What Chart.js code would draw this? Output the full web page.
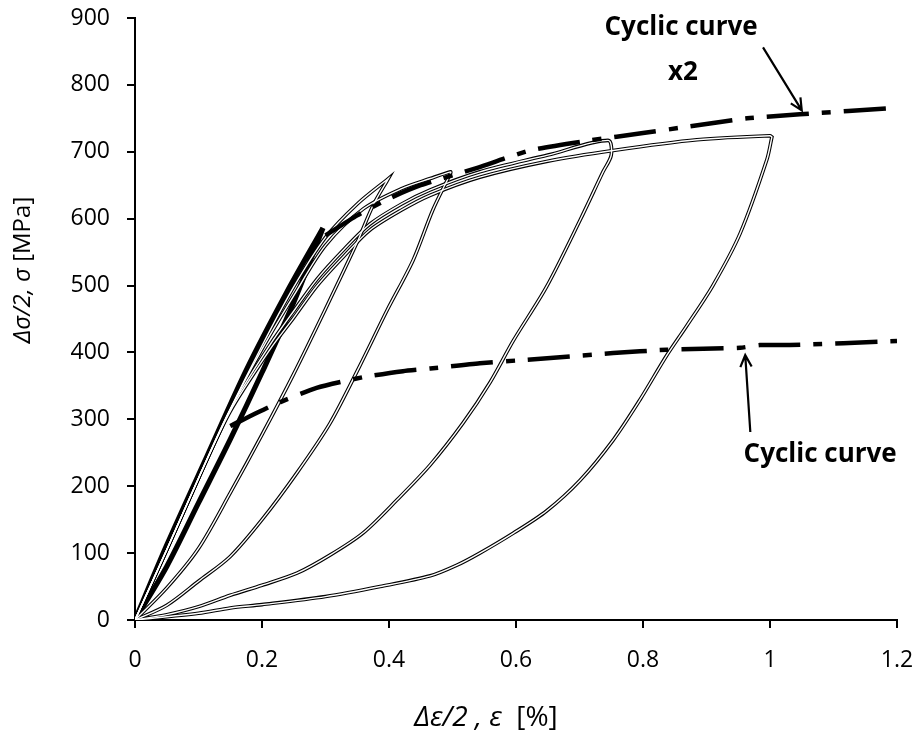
<!DOCTYPE html>
<html>
<head>
<meta charset="utf-8">
<script src="https://cdn.jsdelivr.net/npm/chart.js@4"></script>
<style>
  html, body { margin: 0; padding: 0; background: #fff; }
  canvas { display: block; }
</style>
</head>
<body>
<canvas id="loops" width="916" height="742"></canvas>
<script>
/* stabilised hysteresis loops (origin at the lower tip) with the cyclic curve and its x2 copy */

// ---- loops: lower (unloading) branch and upper (loading) branch, each origin -> tip ----
const low030X = [0, 0.05, 0.1, 0.15, 0.2, 0.25, 0.296];
const low030Y = [0, 80, 175, 270, 370, 475, 586];
const up030X  = [0, 0.05, 0.113, 0.176, 0.239, 0.296];
const up030Y  = [0, 112, 244, 375, 490, 586];

const low040X = [0, 0.05, 0.1, 0.15, 0.2, 0.25, 0.3, 0.35, 0.375, 0.399];
const low040Y = [0, 48, 107, 190, 277, 368, 465, 565, 620, 660];
const up040X  = [0, 0.05, 0.1, 0.15, 0.2, 0.25, 0.3, 0.35, 0.399];
const up040Y  = [0, 105, 212, 315, 410, 498, 572, 622, 660];

const low050X = [0, 0.05, 0.1, 0.15, 0.2, 0.255, 0.307, 0.354, 0.397, 0.438, 0.469, 0.497];
const low050Y = [0, 22, 58, 95, 150, 220, 294, 380, 463, 538, 613, 668];
const up050X  = [0, 0.05, 0.1, 0.15, 0.2, 0.25, 0.3, 0.36, 0.42, 0.465, 0.497];
const up050Y  = [0, 105, 212, 315, 405, 485, 560, 615, 645, 660, 670];

const low075X = [0, 0.05, 0.1, 0.15, 0.2, 0.255, 0.307, 0.359, 0.412, 0.465, 0.517, 0.559, 0.596, 0.648, 0.701, 0.737, 0.75];
const low075Y = [0, 8, 20, 37, 52, 70, 97, 130, 179, 232, 295, 355, 418, 498, 598, 670, 695];
const up075X  = [0, 0.05, 0.1, 0.15, 0.213, 0.25, 0.287, 0.33, 0.37, 0.42, 0.465, 0.543, 0.65, 0.745];
const up075Y  = [0, 105, 212, 315, 412, 462, 510, 555, 592, 622, 643, 670, 695, 717];

const low100X = [0, 0.1, 0.15, 0.2, 0.3, 0.386, 0.465, 0.507, 0.543, 0.596, 0.648, 0.701, 0.753, 0.795, 0.837, 0.869, 0.91, 0.953, 0.995, 1.003];
const low100Y = [0, 10, 18, 23, 35, 50, 66, 82, 100, 130, 163, 209, 269, 329, 395, 440, 500, 578, 688, 722];
const up100X  = [0, 0.05, 0.1, 0.15, 0.213, 0.25, 0.287, 0.33, 0.37, 0.42, 0.465, 0.543, 0.65, 0.753, 0.885, 1.0, 1.003];
const up100Y  = [0, 105, 212, 312, 405, 452, 500, 545, 583, 613, 635, 662, 686, 702, 718, 724, 722];

// ---- cyclic stress-strain curve and the same curve scaled x2 ----
const cyclicX = [0.15, 0.217, 0.286, 0.359, 0.422, 0.465, 0.543, 0.617, 0.753, 0.837, 0.953, 0.984, 1.031, 1.2];
const cyclicY = [290, 321, 347, 363, 372, 376, 384, 389, 399, 404, 407, 411, 411, 417];
const cyclic2X = [0.3, 0.35, 0.4, 0.45, 0.539, 0.622, 0.717, 0.8, 0.874, 0.964, 1.047, 1.2];
const cyclic2Y = [575, 605, 630, 650, 676, 702, 717, 728, 738, 750, 756, 766];

// ---- ticks ----
const xTicks = [0, 0.2, 0.4, 0.6, 0.8, 1, 1.2];
const yTicks = [0, 100, 200, 300, 400, 500, 600, 700, 800, 900];

// ---- annotation anchors in data units: [x, y] ----
const noteTop = { text: "Cyclic curve", sub: "x2", at: [0.860, 885], subAt: [0.863, 818], from: [0.989, 856], to: [1.050, 762] };
const noteLow = { text: "Cyclic curve", at: [1.079, 247], from: [0.969, 281], to: [0.961, 396] };

const pts = (xs, ys) => xs.map((x, i) => ({ x, y: ys[i] }));
const loop = (lx, ly, ux, uy) => pts(lx, ly).concat(pts(ux, uy).reverse());

const loops = [
  loop(low030X, low030Y, up030X, up030Y),
  loop(low040X, low040Y, up040X, up040Y),
  loop(low050X, low050Y, up050X, up050Y),
  loop(low075X, low075Y, up075X, up075Y),
  loop(low100X, low100Y, up100X, up100Y),
];

const line = (data, color, width, order, extra) => Object.assign({
  data, showLine: true, borderColor: color, backgroundColor: color, borderWidth: width,
  pointRadius: 0, tension: 0.3, fill: false, order,
}, extra || {});

const datasets = [];
loops.forEach((d, i) => datasets.push(line(d, "#000", i === 0 ? 5.2 : 3.6, 3)));
loops.forEach((d, i) => { if (i > 0) datasets.push(line(d, "#fff", 1.4, 2)); });
const dashed = { borderDash: [42, 13, 9, 13], borderCapStyle: "butt", tension: 0.2 };
datasets.push(line(pts(cyclicX, cyclicY), "#000", 4.5, 1, dashed));
datasets.push(line(pts(cyclic2X, cyclic2Y), "#000", 4.5, 1, dashed));

const FONT = "'Open Sans', sans-serif";

function arrow(ctx, x0, y0, x1, y1) {
  const a = Math.atan2(y1 - y0, x1 - x0), h = 13, w = 0.45;
  ctx.beginPath();
  ctx.moveTo(x0, y0); ctx.lineTo(x1, y1);
  ctx.moveTo(x1 - h * Math.cos(a - w), y1 - h * Math.sin(a - w));
  ctx.lineTo(x1, y1);
  ctx.lineTo(x1 - h * Math.cos(a + w), y1 - h * Math.sin(a + w));
  ctx.stroke();
}

// draws "italic part" + "upright part" centred on (0,0) of the current transform
function mixedTitle(ctx, ital, plain, size) {
  ctx.font = `italic ${size}px ${FONT}`;
  const w1 = ctx.measureText(ital).width;
  ctx.font = `${size}px ${FONT}`;
  const w2 = ctx.measureText(plain).width;
  let x = -(w1 + w2) / 2;
  ctx.textAlign = "left"; ctx.textBaseline = "middle";
  ctx.font = `italic ${size}px ${FONT}`; ctx.fillText(ital, x, 0);
  ctx.font = `${size}px ${FONT}`; ctx.fillText(plain, x + w1, 0);
}

const extras = {
  id: "extras",
  afterDraw(chart) {
    const { ctx, scales: { x, y } } = chart;
    const px = p => [x.getPixelForValue(p[0]), y.getPixelForValue(p[1])];
    ctx.save();
    ctx.fillStyle = "#000"; ctx.strokeStyle = "#000"; ctx.lineWidth = 2.2;

    // annotations
    ctx.textAlign = "center"; ctx.textBaseline = "middle";
    ctx.font = `bold 26px ${FONT}`;
    let p = px(noteTop.at); ctx.fillText(noteTop.text, p[0], p[1]);
    p = px(noteTop.subAt); ctx.fillText(noteTop.sub, p[0], p[1]);
    p = px(noteLow.at); ctx.fillText(noteLow.text, p[0], p[1]);
    [noteTop, noteLow].forEach(n => { const a = px(n.from), b = px(n.to); arrow(ctx, a[0], a[1], b[0], b[1]); });

    // axis titles
    ctx.save();
    ctx.translate(486, 718);
    mixedTitle(ctx, "\u0394\u03b5/2 , \u03b5  ", "[%]", 28);
    ctx.restore();
    ctx.save();
    ctx.translate(23, 270); ctx.rotate(-Math.PI / 2);
    mixedTitle(ctx, "\u0394\u03c3/2, \u03c3 ", "[MPa]", 24);
    ctx.restore();
    ctx.restore();
  },
};

const axisGrid = { display: true, drawOnChartArea: false, drawTicks: true, tickLength: 8, color: "#000", lineWidth: 2 };
const axisBorder = { display: true, color: "#000", width: 2 };

new Chart(document.getElementById("loops"), {
  type: "scatter",
  data: { datasets },
  plugins: [extras],
  options: {
    responsive: false, animation: false, devicePixelRatio: 1,
    layout: { padding: { top: 18, right: 19, left: 0, bottom: 0 } },
    plugins: { legend: { display: false }, tooltip: { enabled: false } },
    scales: {
      x: {
        type: "linear", min: 0, max: 1.2,
        grid: axisGrid, border: axisBorder,
        afterBuildTicks: s => { s.ticks = xTicks.map(v => ({ value: v })); },
        afterFit: s => { s.height = 122; s.paddingLeft = 0; s.paddingRight = 0; },
        ticks: { color: "#000", padding: 19, maxRotation: 0, font: { family: FONT, size: 23 }, callback: v => String(v) },
      },
      y: {
        type: "linear", min: 0, max: 900,
        grid: axisGrid, border: axisBorder,
        afterBuildTicks: s => { s.ticks = yTicks.map(v => ({ value: v })); },
        afterFit: s => { s.width = 135; s.paddingTop = 0; s.paddingBottom = 0; },
        ticks: { color: "#000", padding: 17, font: { family: FONT, size: 23 }, callback: v => String(v) },
      },
    },
  },
});
</script>
</body>
</html>
